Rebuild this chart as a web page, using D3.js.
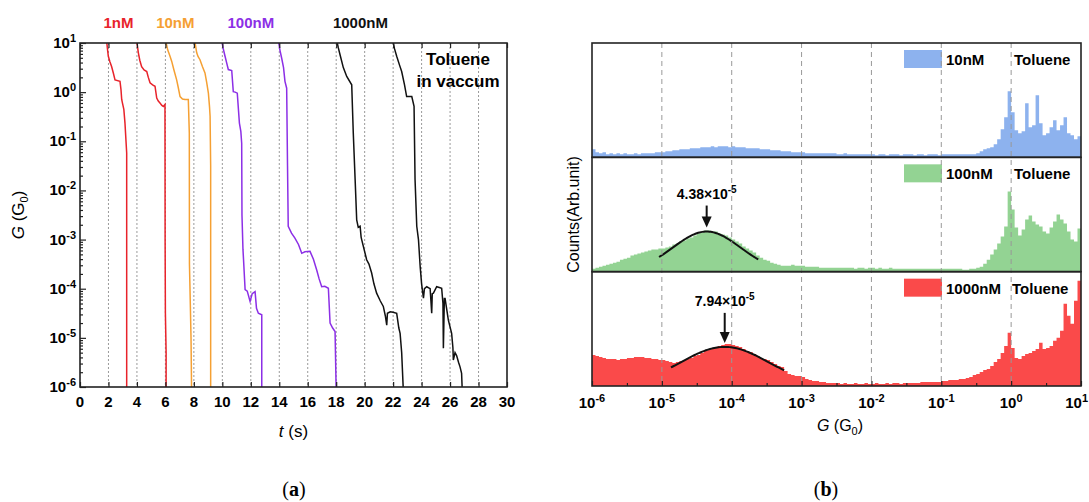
<!DOCTYPE html>
<html>
<head>
<meta charset="utf-8">
<script src="https://cdn.jsdelivr.net/npm/d3@7"></script>
<style>
    body { margin: 0; background: #fff; }
    svg { font-family: Arial, "Liberation Sans", sans-serif; }
</style>
</head>
<body>
<div class="figure"></div>
<script>
'use strict'

// ---- Panel (a) data: conductance traces, [t (s), log10 G/G0] ----
const trace1nM_1 = [[1.87,1.05],[1.92,0.9],[1.99,0.73],[2.1,0.62],[2.22,0.52],[2.35,0.38],[2.46,0.25],[2.81,0.22],[2.88,0.05],[2.93,-0.15],[2.98,-0.22],[3.08,-0.35],[3.16,-0.63],[3.28,-1.24],[3.28,-6.1]];
const trace1nM_2 = [[3.98,1.05],[4.1,0.8],[4.2,0.65],[4.33,0.52],[4.5,0.45],[4.69,0.42],[4.8,0.3],[4.92,0.19],[5.1,0.15],[5.27,0.12],[5.39,-0.12],[5.5,-0.18],[5.62,-0.22],[5.75,-0.27],[5.85,-0.29],[5.97,-0.25],[5.98,-3.0],[6.0,-4.5],[6.05,-5.3],[6.05,-6.1]];
const trace10nM_1 = [[6.02,1.05],[6.16,0.86],[6.3,0.75],[6.44,0.63],[6.6,0.45],[6.79,0.25],[6.9,0.1],[7.03,-0.09],[7.2,-0.14],[7.38,-0.15],[7.61,-0.15],[7.68,-0.83],[7.69,-3.5],[7.72,-3.9],[7.75,-4.3],[7.8,-5.0],[7.84,-6.1]];
const trace10nM_2 = [[8.06,1.05],[8.2,0.8],[8.3,0.72],[8.43,0.66],[8.6,0.52],[8.78,0.39],[8.9,0.2],[9.02,-0.02],[9.1,-0.3],[9.14,-0.49],[9.18,-1.5],[9.18,-6.1]];
const trace100nM_1 = [[9.96,1.05],[10.05,0.9],[10.19,0.73],[10.3,0.6],[10.42,0.46],[10.66,0.44],[10.77,0.01],[10.9,0.0],[11.05,-0.02],[11.2,-0.63],[11.3,-0.8],[11.36,-1.04],[11.38,-2.5],[11.45,-3.2],[11.49,-3.41],[11.6,-4.02],[11.75,-4.05],[11.95,-4.26],[12.1,-4.1],[12.3,-4.06],[12.4,-4.4],[12.53,-4.5],[12.77,-4.53],[12.77,-6.1]];
const trace100nM_2 = [[13.94,1.05],[14.05,0.85],[14.17,0.69],[14.3,0.5],[14.4,0.22],[14.52,0.08],[14.58,-1.5],[14.63,-2.73],[14.86,-2.87],[15.1,-2.97],[15.35,-3.1],[15.58,-3.28],[15.8,-3.25],[16.16,-3.24],[16.4,-3.4],[16.63,-3.62],[16.8,-3.8],[16.98,-3.96],[17.2,-3.95],[17.45,-3.99],[17.57,-4.7],[17.75,-4.8],[17.92,-4.87],[18.0,-6.1]];
const trace1000nM_1 = [[18.04,1.05],[18.15,0.9],[18.27,0.76],[18.5,0.5],[18.74,0.32],[19.09,0.15],[19.2,-0.83],[19.33,-1.78],[19.44,-2.6],[19.55,-2.75],[19.68,-2.73],[19.75,-2.95],[19.79,-3.0],[20.14,-3.41],[20.3,-3.5],[20.49,-3.68],[20.65,-3.9],[20.84,-4.09],[21.1,-4.25],[21.31,-4.36],[21.45,-4.55],[21.55,-4.74],[21.6,-4.5],[21.79,-4.47],[22.0,-4.48],[22.25,-4.5],[22.4,-4.8],[22.49,-4.91],[22.6,-5.3],[22.72,-6.1]];
const trace1000nM_2 = [[21.97,1.05],[22.1,0.88],[22.25,0.73],[22.45,0.55],[22.6,0.42],[22.8,0.15],[22.95,-0.09],[23.31,-0.09],[23.47,-0.29],[23.54,-1.78],[23.66,-2.73],[23.78,-3.0],[23.9,-3.55],[24.0,-3.9],[24.13,-4.19],[24.2,-4.0],[24.36,-3.96],[24.6,-4.0],[24.71,-4.5],[24.75,-4.1],[24.83,-4.09],[25.06,-3.96],[25.3,-3.98],[25.41,-3.99],[25.5,-4.3],[25.53,-5.21],[25.6,-4.2],[25.65,-4.2],[25.88,-4.64],[26.11,-4.91],[26.2,-5.2],[26.23,-5.45],[26.35,-5.3],[26.46,-5.36],[26.6,-5.5],[26.7,-5.59],[26.81,-5.72],[26.86,-6.1]];

const concLabels = ['1nM', '10nM', '100nM', '1000nM'];
const concColors = ['#e8232b', '#f5a033', '#8c2fe6', '#111111'];
const concLabelT = [2.7, 6.7, 12, 19.7];   // centre of each top label, in s
const timeTicks = d3.range(0, 31, 2);
const gridTimes = d3.range(2, 29, 2);

// ---- Panel (b) data: log-binned conductance histograms ----
// bins of 0.05 decade starting at 10^-6
const histBinStart = -6, histBinWidth = 0.05;
const counts10nM = [
    8,5,4,5,3,4,3,4,3,4, 3,3,4,3,4,4,4,4,5,5,
    5,6,6,7,7,8,8,8,9,9, 9,10,10,10,11,10,11,11,11,10,
    11,10,10,10,9,9,9,9,8,8, 8,7,7,7,6,6,6,5,5,5,
    5,4,4,4,4,4,4,4,4,4, 3,3,4,3,3,3,3,3,3,3,
    3,2,3,3,2,3,3,3,2,3, 3,3,2,3,3,2,3,3,3,2,
    3,3,3,3,3,3,3,3,3,3, 4,6,8,9,10,13,18,28,40,66,
    45,27,24,26,54,30,32,62,34,22, 24,30,37,27,32,40,24,22,18,21];
const counts100nM = [
    3,4,5,6,7,8,9,10,12,13, 14,16,17,18,19,20,21,22,22,23,
    23,24,25,27,28,30,31,33,34,36, 38,39,41,41,40,40,38,37,36,34,
    32,30,28,25,23,21,19,16,14,12, 11,9,8,7,6,6,6,7,6,6,
    6,5,5,5,5,4,4,4,4,4, 4,4,4,4,4,3,4,4,3,4,
    4,3,4,3,3,4,3,3,3,3, 3,3,3,3,3,3,3,3,3,3,
    3,3,3,3,3,3,2,2,3,3, 4,5,8,12,17,22,28,35,45,80,
    62,44,36,42,52,56,50,47,45,40, 38,44,50,57,52,48,40,32,30,43];
const counts1000nM = [
    31,30,29,28,27,27,27,26,27,27, 28,28,29,29,29,28,28,27,27,26,
    26,25,24,23,24,25,26,27,28,30, 31,33,35,36,38,39,40,41,42,42,
    41,40,39,37,35,34,32,30,28,27, 26,24,22,20,19,15,12,11,10,10,
    9,7,6,5,5,4,4,3,3,3, 3,2,3,2,2,3,2,2,3,2,
    2,3,2,2,3,2,3,3,2,3, 3,3,3,3,4,4,4,4,4,4,
    5,5,6,6,6,7,7,8,9,11, 12,14,16,17,20,24,27,33,40,53,
    38,28,27,30,32,33,35,37,43,37, 38,40,45,48,55,82,70,62,85,105];

const histNames = ['10nM', '100nM', '1000nM'];
const histColors = ['#8db2ee', '#93d393', '#fa4a4a'];
// Gaussian fits: [peak G, amplitude, sigma (decades), from, to (log10 G)]
const fit100nM = [4.38e-5, 40, 0.48, -5.04, -3.61];
const fit1000nM = [7.94e-5, 39, 0.63, -4.87, -3.25];
const fitLabels = ['4.38', '7.94'];
const decadeTicks = d3.range(-6, 2);

// ---- SVG ----
const W = 1089, H = 502;
let svg = d3.select('.figure').append('svg')
    .attr('width', W).attr('height', H);

// superscript tick labels like 10^-6
function powLabel(sel, exp, size) {
    sel.append('tspan').text('10');
    sel.append('tspan').attr('dy', -6).attr('font-size', size - 4).text(exp);
}

// =================== Panel (a) ===================
let a = {left: 80, right: 507, top: 43, bottom: 387};

let x = d3.scaleLinear().domain([0, 30]).range([a.left, a.right]);
let y = d3.scaleLog().domain([1e-6, 10]).range([a.bottom, a.top]);

svg.append('clipPath').attr('id', 'clipA')
    .append('rect')
    .attr('x', a.left).attr('y', a.top)
    .attr('width', a.right - a.left).attr('height', a.bottom - a.top);

// dotted grid
svg.append('g').selectAll('line')
    .data(gridTimes)
    .join('line')
    .attr('x1', d => x(d)).attr('x2', d => x(d))
    .attr('y1', a.top).attr('y2', a.bottom)
    .attr('stroke', '#9a9a9a').attr('stroke-width', 1)
    .attr('stroke-dasharray', '2,2');

// traces
let traces = [trace1nM_1, trace1nM_2, trace10nM_1, trace10nM_2,
    trace100nM_1, trace100nM_2, trace1000nM_1, trace1000nM_2];
let line = d3.line()
    .x(d => x(d[0]))
    .y(d => y(Math.pow(10, d[1])));
svg.append('g').attr('clip-path', 'url(#clipA)')
    .selectAll('path')
    .data(traces)
    .join('path')
    .attr('d', line)
    .attr('fill', 'none')
    .attr('stroke', (d, i) => concColors[Math.floor(i / 2)])
    .attr('stroke-width', 1.5);

// axes (ticks point inward)
let decades = y.ticks().filter(d => Math.abs(Math.log10(d) - Math.round(Math.log10(d))) < 1e-9);
let minors = y.ticks().filter(d => decades.indexOf(d) < 0);

svg.append('g')
    .attr('transform', `translate(${a.left},0)`)
    .call(d3.axisLeft(y).tickValues(decades).tickSize(-6).tickFormat(''))
    .call(g => g.select('.domain').remove());
svg.append('g')
    .attr('transform', `translate(${a.left},0)`)
    .call(d3.axisLeft(y).tickValues(minors).tickSize(-3).tickFormat(''))
    .call(g => g.select('.domain').remove());
svg.append('g')
    .attr('transform', `translate(0,${a.bottom})`)
    .call(d3.axisBottom(x).tickValues(timeTicks).tickSize(-5).tickFormat(''))
    .call(g => g.select('.domain').remove());
svg.append('g')
    .attr('transform', `translate(0,${a.top})`)
    .call(d3.axisTop(x).tickValues(timeTicks).tickSize(-5).tickFormat(''))
    .call(g => g.select('.domain').remove());
svg.selectAll('.tick line').attr('stroke', '#222').attr('stroke-width', 1.2);

// frame
svg.append('rect')
    .attr('x', a.left).attr('y', a.top)
    .attr('width', a.right - a.left).attr('height', a.bottom - a.top)
    .attr('fill', 'none').attr('stroke', '#222').attr('stroke-width', 1.6);

// tick labels
svg.append('g').selectAll('text')
    .data(decades)
    .join('text')
    .attr('x', a.left - 4)
    .attr('y', d => y(d) + 5)
    .attr('text-anchor', 'end')
    .attr('font-size', 15).attr('font-weight', 'bold')
    .each(function (d) { powLabel(d3.select(this), String(Math.round(Math.log10(d))), 15); });

svg.append('g').selectAll('text')
    .data(timeTicks)
    .join('text')
    .attr('x', d => x(d))
    .attr('y', a.bottom + 20)
    .attr('text-anchor', 'middle')
    .attr('font-size', 15).attr('font-weight', 'bold')
    .text(d => d);

// axis titles
let ta = svg.append('text')
    .attr('x', x(15)).attr('y', 437)
    .attr('text-anchor', 'middle').attr('font-size', 17);
ta.append('tspan').attr('font-style', 'italic').text('t');
ta.append('tspan').text(' (s)');

let ga = svg.append('text')
    .attr('transform', `translate(24,${(a.top + a.bottom) / 2}) rotate(-90)`)
    .attr('text-anchor', 'middle').attr('font-size', 17);
ga.append('tspan').attr('font-style', 'italic').text('G');
ga.append('tspan').text(' (G');
ga.append('tspan').attr('font-size', 11).attr('dy', 4).text('0');
ga.append('tspan').attr('dy', -4).text(')');

// concentration labels above panel
svg.append('g').selectAll('text')
    .data(concLabels)
    .join('text')
    .attr('x', (d, i) => x(concLabelT[i]))
    .attr('y', 28)
    .attr('text-anchor', 'middle')
    .attr('font-size', 15).attr('font-weight', 'bold')
    .attr('fill', (d, i) => concColors[i])
    .text(d => d);

svg.append('text')
    .attr('x', 458).attr('y', 65)
    .attr('text-anchor', 'middle').attr('font-size', 17).attr('font-weight', 'bold')
    .text('Toluene');
svg.append('text')
    .attr('x', 458).attr('y', 87)
    .attr('text-anchor', 'middle').attr('font-size', 17).attr('font-weight', 'bold')
    .text('in vaccum');

// =================== Panel (b) ===================
let b = {left: 592, right: 1081, top: 43, bottom: 386};
let panelH = (b.bottom - b.top) / 3;

let xb = d3.scaleLog().domain([1e-6, 10]).range([b.left, b.right]);
let countMax = 114;

svg.append('clipPath').attr('id', 'clipB')
    .append('rect')
    .attr('x', b.left).attr('y', b.top)
    .attr('width', b.right - b.left).attr('height', b.bottom - b.top);

let histSeries = [counts10nM, counts100nM, counts1000nM];
let fits = [null, fit100nM, fit1000nM];

histSeries.forEach((counts, k) => {
    let top = b.top + k * panelH, bottom = top + panelH;
    let yb = d3.scaleLinear().domain([0, countMax]).range([bottom, top]);

    // close the last bin at 10^1
    let pts = counts.map((c, i) => [histBinStart + i * histBinWidth, c]);
    pts.push([histBinStart + counts.length * histBinWidth, counts[counts.length - 1]]);

    let area = d3.area()
        .curve(d3.curveStepAfter)
        .x(d => xb(Math.pow(10, d[0])))
        .y0(yb(0))
        .y1(d => yb(d[1]));

    svg.append('path')
        .attr('clip-path', 'url(#clipB)')
        .attr('d', area(pts))
        .attr('fill', histColors[k]);

    // legend
    svg.append('rect')
        .attr('x', 904).attr('y', top + 7)
        .attr('width', 38).attr('height', 18)
        .attr('fill', histColors[k]);
    svg.append('text')
        .attr('x', 946).attr('y', top + 22)
        .attr('font-size', 15).attr('font-weight', 'bold')
        .text(histNames[k]);
    svg.append('text')
        .attr('x', k === 2 ? 1012 : 1014).attr('y', top + 22)
        .attr('font-size', 15).attr('font-weight', 'bold')
        .text('Toluene');

    // Gaussian fit with arrow and label
    let f = fits[k];
    if (f) {
        let c = Math.log10(f[0]);
        let gauss = d3.range(f[3], f[4] + 1e-9, 0.02)
            .map(v => [v, f[1] * Math.exp(-((v - c) * (v - c)) / (2 * f[2] * f[2]))]);
        svg.append('path')
            .attr('d', d3.line()
                .x(d => xb(Math.pow(10, d[0])))
                .y(d => yb(d[1]))(gauss))
            .attr('fill', 'none').attr('stroke', '#111').attr('stroke-width', 2);

        let px = xb(f[0]);
        let tip = yb(f[1]) - 4;
        let tail = tip - (k === 1 ? 22 : 30);
        svg.append('line')
            .attr('x1', px).attr('x2', px)
            .attr('y1', tail).attr('y2', tip - 8)
            .attr('stroke', '#111').attr('stroke-width', 2);
        svg.append('path')
            .attr('d', `M${px - 5},${tip - 11}L${px + 5},${tip - 11}L${px},${tip}Z`)
            .attr('fill', '#111');

        let lab = svg.append('text')
            .attr('x', px).attr('y', tail - 7)
            .attr('text-anchor', 'middle')
            .attr('font-size', 14).attr('font-weight', 'bold');
        lab.append('tspan').text(fitLabels[k - 1] + '×10');
        lab.append('tspan').attr('dy', -6).attr('font-size', 10).text('-5');
    }
});

// dashed decade grid across all three panels
svg.append('g').selectAll('line')
    .data(decadeTicks.slice(1, -1))
    .join('line')
    .attr('x1', d => xb(Math.pow(10, d))).attr('x2', d => xb(Math.pow(10, d)))
    .attr('y1', b.top).attr('y2', b.bottom)
    .attr('stroke', '#999').attr('stroke-width', 1)
    .attr('stroke-dasharray', '5,4');

// bottom axis ticks (inward), majors at decades, minors at half decades
svg.append('g')
    .attr('transform', `translate(0,${b.bottom})`)
    .call(d3.axisBottom(xb).tickValues(decadeTicks.map(d => Math.pow(10, d))).tickSize(-5).tickFormat(''))
    .call(g => g.select('.domain').remove());
svg.append('g')
    .attr('transform', `translate(0,${b.bottom})`)
    .call(d3.axisBottom(xb).tickValues(decadeTicks.slice(0, -1).map(d => Math.pow(10, d + 0.5))).tickSize(-3).tickFormat(''))
    .call(g => g.select('.domain').remove());
svg.selectAll('.tick line').attr('stroke', '#222').attr('stroke-width', 1.2);

// frames around the three panels
[0, 1, 2].forEach(k => {
    svg.append('rect')
        .attr('x', b.left).attr('y', b.top + k * panelH)
        .attr('width', b.right - b.left).attr('height', panelH)
        .attr('fill', 'none').attr('stroke', '#222').attr('stroke-width', 1.6);
});

// last label (10^1) sits at the right edge: right-align it so it stays in view
svg.append('g').selectAll('text')
    .data(decadeTicks)
    .join('text')
    .attr('x', d => d === 1 ? W - 1 : xb(Math.pow(10, d)))
    .attr('y', b.bottom + 22)
    .attr('text-anchor', d => d === 1 ? 'end' : 'middle')
    .attr('font-size', 15).attr('font-weight', 'bold')
    .each(function (d) { powLabel(d3.select(this), String(d), 15); });

let gb = svg.append('text')
    .attr('x', 840).attr('y', 431)
    .attr('text-anchor', 'middle').attr('font-size', 16);
gb.append('tspan').attr('font-style', 'italic').text('G');
gb.append('tspan').text(' (G');
gb.append('tspan').attr('font-size', 11).attr('dy', 4).text('0');
gb.append('tspan').attr('dy', -4).text(')');

svg.append('text')
    .attr('transform', `translate(579,${(b.top + b.bottom) / 2}) rotate(-90)`)
    .attr('text-anchor', 'middle').attr('font-size', 16)
    .text('Counts(Arb.unit)');

// panel letters
[['a', 294], ['b', 826]].forEach(p => {
    let t = svg.append('text')
        .attr('x', p[1]).attr('y', 496)
        .attr('text-anchor', 'middle')
        .attr('font-family', '"Liberation Serif", "DejaVu Serif", serif')
        .attr('font-size', 20);
    t.append('tspan').text('(');
    t.append('tspan').attr('font-weight', 'bold').text(p[0]);
    t.append('tspan').text(')');
});
</script>
</body>
</html>
